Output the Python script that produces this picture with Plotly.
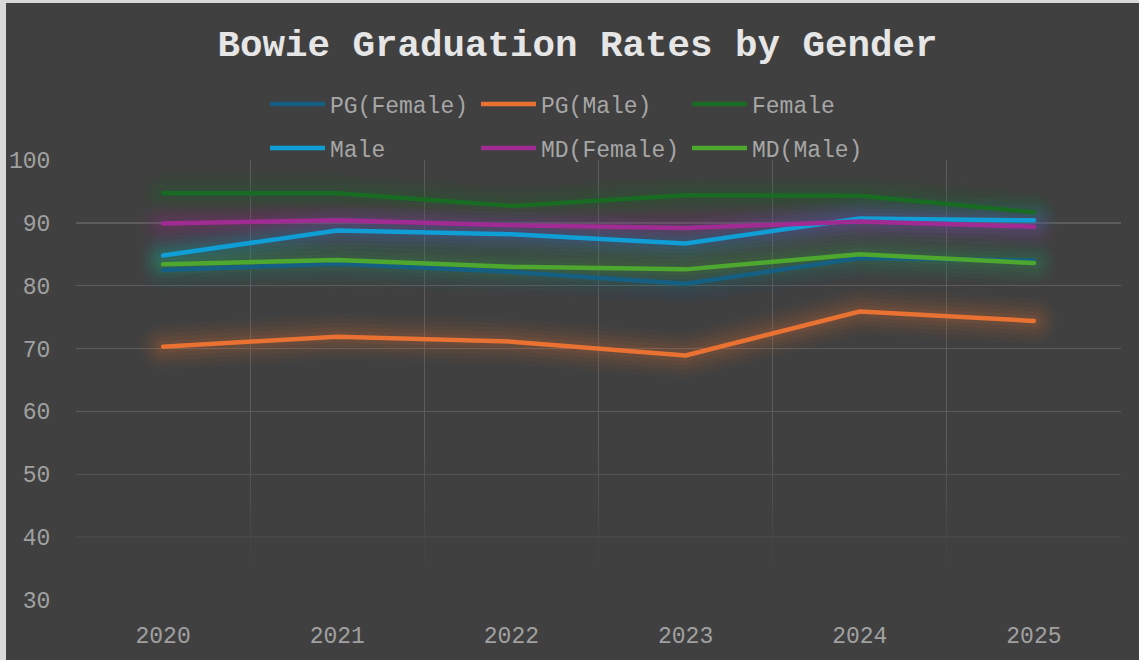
import plotly.graph_objects as go

years = [2020, 2021, 2022, 2023, 2024, 2025]
pg_female = [82.5, 83.5, 82.2, 80.3, 84.4, 84.0]
pg_male = [70.3, 71.9, 71.1, 68.9, 75.9, 74.4]
female = [94.7, 94.7, 92.7, 94.4, 94.3, 91.7]
male = [84.8, 88.8, 88.2, 86.7, 90.7, 90.4]
md_female = [89.9, 90.4, 89.6, 89.2, 90.2, 89.4]
md_male = [83.4, 84.1, 83.0, 82.6, 85.0, 83.6]

series = [
    ("PG(Female)", pg_female, "#156082", "legend"),
    ("PG(Male)", pg_male, "#E97132", "legend"),
    ("Female", female, "#196B24", "legend"),
    ("Male", male, "#0F9ED5", "legend2"),
    ("MD(Female)", md_female, "#A02B93", "legend2"),
    ("MD(Male)", md_male, "#4EA72E", "legend2"),
]

W, H = 1139, 660
L, R, T, B = 76, 18, 160, 60
FONT = "Liberation Mono, Courier New, monospace"
BG = "#404040"


def rgba(hexc, a):
    h = hexc.lstrip("#")
    r, g, b = int(h[0:2], 16), int(h[2:4], 16), int(h[4:6], 16)
    return f"rgba({r},{g},{b},{a})"


fig = go.Figure()

# fade-out of the gridlines in the lower part of the plot area
fig.add_trace(go.Scatter(
    x=[2019.5, 2025.5, 2025.5, 2019.5, 2019.5],
    y=[30, 30, 56, 56, 30],
    mode="none", fill="toself", hoverinfo="skip", showlegend=False,
    fillgradient=dict(type="vertical", start=35, stop=56,
                      colorscale=[[0, rgba(BG, 1)], [1, rgba(BG, 0)]]),
))

# glow layers
for name, vals, col, lg in series:
    for w, a in [(46, 0.035), (37, 0.045), (28, 0.055), (20, 0.065), (12, 0.08)]:
        fig.add_trace(go.Scatter(
            x=years, y=vals, mode="lines",
            line=dict(color=rgba(col, a), width=w),
            hoverinfo="skip", showlegend=False,
        ))

# main lines
for name, vals, col, lg in series:
    fig.add_trace(go.Scatter(
        x=years, y=vals, mode="lines", name=name,
        line=dict(color=col, width=4.5), legend=lg,
    ))

legend_common = dict(
    orientation="h", xref="container", yref="container",
    xanchor="left", yanchor="middle",
    bgcolor="rgba(0,0,0,0)",
    font=dict(family=FONT, size=23, color="#a6a6a6"),
    entrywidth=141, entrywidthmode="pixels",
    itemwidth=55, tracegroupgap=0,
)

fig.update_layout(
    width=W, height=H,
    margin=dict(l=L, r=R, t=T, b=B, autoexpand=False),
    paper_bgcolor=BG, plot_bgcolor=BG,
    title=dict(text="<b>Bowie Graduation Rates by Gender</b>",
               x=0.507, xanchor="center", y=1 - 43 / H, yanchor="middle",
               font=dict(family=FONT, size=37.5, color="#e6e6e6")),
    legend=dict(x=265 / W, y=1 - 104 / H, **legend_common),
    legend2=dict(x=265 / W, y=1 - 148 / H, **legend_common),
    xaxis=dict(
        range=[2019.5, 2025.5], tickvals=years, ticktext=[str(y) for y in years],
        showgrid=False, zeroline=False, showline=False,
        ticks="outside", ticklen=14, tickcolor="rgba(0,0,0,0)",
        tickfont=dict(family=FONT, size=23, color="#a0a0a0"),
        minor=dict(tickvals=[2019.5 + i for i in range(7)], showgrid=True,
                   gridcolor="#5c5c5c", gridwidth=1.3, ticks=""),
    ),
    yaxis=dict(
        range=[30, 100], dtick=10, tick0=30,
        showgrid=True, gridcolor="#5c5c5c", gridwidth=1.3,
        zeroline=False, showline=False,
        ticks="outside", ticklen=20, tickcolor="rgba(0,0,0,0)",
        tickfont=dict(family=FONT, size=23, color="#a0a0a0"),
    ),
    hovermode=False,
)

# light outer frame strips (top and left edges of the picture)
pw, ph = W - L - R, H - T - B
def px(xp):
    return (xp - L) / pw
def py(yp):
    return 1 - (yp - T) / ph
fig.add_shape(type="rect", xref="paper", yref="paper",
              x0=px(0), x1=px(W), y0=py(0), y1=py(3),
              fillcolor="#d9d9d9", line_width=0, layer="above")
fig.add_shape(type="rect", xref="paper", yref="paper",
              x0=px(0), x1=px(6), y0=py(0), y1=py(H),
              fillcolor="#d9d9d9", line_width=0, layer="above")

post = """
document.body.style.margin='0';
document.querySelectorAll('.scatterlayer path.js-line').forEach(function(p){
  p.style.strokeLinecap='round'; p.style.strokeLinejoin='round';
});
"""
fig.write_html("out.html", post_script=post,
               config={"displayModeBar": False, "staticPlot": True})
